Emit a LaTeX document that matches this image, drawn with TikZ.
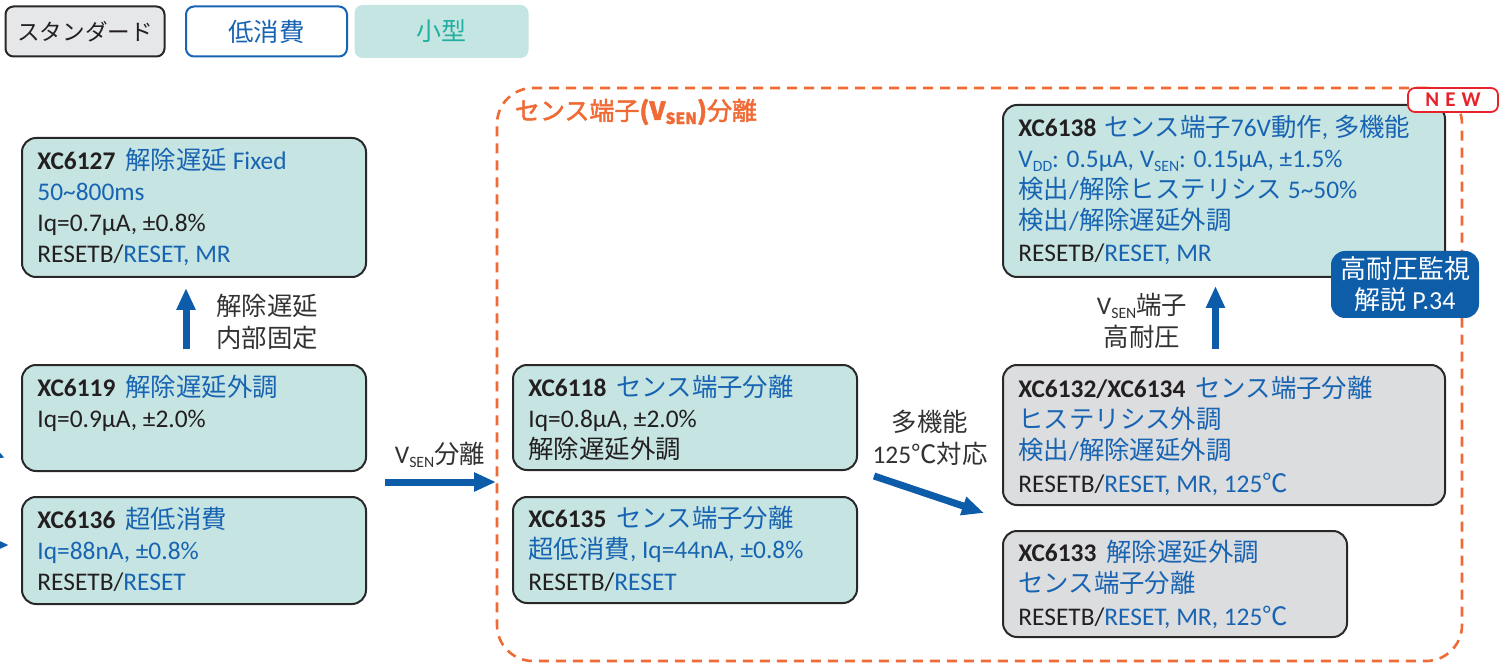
\documentclass[tikz,border=0pt]{standalone}
\usepackage{fontspec}
\usepackage{graphicx}
\setmainfont{Carlito}
\newfontfamily\jpf{Noto Sans CJK JP}
\newfontfamily\jpbf{Noto Sans CJK JP}[FakeBold=2]
\usetikzlibrary{arrows.meta,calc}
\definecolor{txtdark}{RGB}{35,31,32}
\definecolor{lbldark}{RGB}{50,50,50}
\definecolor{txtblue}{RGB}{24,100,178}
\definecolor{tealfill}{RGB}{198,229,226}
\definecolor{grayfill}{RGB}{220,221,223}
\definecolor{boxline}{RGB}{40,40,40}
\definecolor{arrblue}{RGB}{12,92,170}
\definecolor{orng}{RGB}{240,106,54}
\definecolor{newred}{RGB}{230,35,42}
\definecolor{legteal}{RGB}{34,175,160}
\definecolor{legtealfill}{RGB}{196,229,225}
\definecolor{leggray}{RGB}{230,231,232}
\definecolor{badgeblue}{RGB}{13,93,169}
\newcommand\jp[1]{{\jpf #1}}
\newcommand\bl[1]{\textcolor{txtblue}{#1}}
\newcommand\ssub[1]{\raisebox{-0.3ex}{\scalebox{0.62}{#1}}}
\newcommand\bodyfont{\fontsize{12.7}{16}\selectfont}
\tikzset{
  tbox/.style={draw=boxline, line width=1pt, fill=tealfill, rounded corners=7pt, inner sep=0},
  gbox/.style={tbox, fill=grayfill},
  ln/.style={anchor=base west, inner sep=0, font=\bodyfont, text=txtdark},
  lab/.style={inner sep=0, font=\bodyfont, text=lbldark, align=center},
  bigarr/.style={draw=arrblue, line width=3.5pt, -{Triangle[width=9pt,length=11pt]}},
}
\begin{document}
\begin{tikzpicture}[x=0.5pt,y=-0.5pt]
\useasboundingbox (0,0) rectangle (1510,663);
\clip (0,0) rectangle (1510,663);

% legend
\node[draw=boxline, line width=1pt, fill=leggray, rounded corners=4pt, minimum width=79.5pt, minimum height=25pt, inner sep=0, font=\jpf\fontsize{11.3}{12}\selectfont, text=txtdark] (lg1) at (85,31.5) {スタンダード};
\node[draw=txtblue, line width=1pt, fill=white, rounded corners=4pt, minimum width=80.5pt, minimum height=25pt, inner sep=0, font=\jpf\fontsize{12.7}{13}\selectfont, text=txtblue] (lg2) at (266.5,31.5) {低消費};
\node[fill=legtealfill, rounded corners=4pt, minimum width=87pt, minimum height=26.5pt, inner sep=0, font=\jpf\fontsize{12.5}{13}\selectfont, text=legteal] (lg3) at (441.5,31.5) {小型};

% dashed frame
\node[draw=orng, line width=1.3pt, dash pattern=on 5pt off 3.5pt, rounded corners=18pt, minimum width=482.5pt, minimum height=286.5pt, inner sep=0] (frame) at (979.5,374.5) {};
\node[inner sep=0, text=orng, font=\fontsize{12.5}{13}\selectfont] (ftitle) at (636,112) {\jpbf センス端子\textbf{(V\ssub{SEN})}\jpbf 分離};

% boxes
\node[tbox, minimum width=172pt, minimum height=69.5pt] (b6127) at (194,207.5) {};
\node[tbox, minimum width=172pt, minimum height=53pt] (b6119) at (194,418) {};
\node[tbox, minimum width=172pt, minimum height=53.5pt] (b6136) at (194,550.5) {};
\node[tbox, minimum width=172pt, minimum height=52.5pt] (b6118) at (685,417.5) {};
\node[tbox, minimum width=172pt, minimum height=53pt] (b6135) at (685,550) {};
\node[gbox, minimum width=221pt, minimum height=70pt] (b6132) at (1224,435) {};
\node[gbox, minimum width=172pt, minimum height=53pt] (b6133) at (1175,584) {};
\node[tbox, minimum width=221pt, minimum height=86pt] (b6138) at (1224,191) {};

% XC6127
\node[ln] (t27a) at (37,170) {\textbf{XC6127}\hspace{5pt}\bl{\jp{解除遅延} Fixed}};
\node[ln] (t27b) at (37,201) {\bl{50\textasciitilde800ms}};
\node[ln] (t27c) at (37,232) {Iq=0.7µA, ±0.8\%};
\node[ln] (t27d) at (37,263) {RESETB/\bl{RESET, MR}};
% XC6119
\node[ln] (t19a) at (37,396) {\textbf{XC6119}\hspace{5pt}\bl{\jp{解除遅延外調}}};
\node[ln] (t19b) at (37,427) {Iq=0.9µA, ±2.0\%};
% XC6136
\node[ln] (t36a) at (37,528) {\textbf{XC6136}\hspace{5pt}\bl{\jp{超低消費}}};
\node[ln] (t36b) at (37,559) {\bl{Iq=88nA, ±0.8\%}};
\node[ln] (t36c) at (37,590) {RESETB/\bl{RESET}};
% XC6118
\node[ln] (t18a) at (528,396) {\textbf{XC6118}\hspace{5pt}\bl{\jp{センス端子分離}}};
\node[ln] (t18b) at (528,427) {Iq=0.8µA, ±2.0\%};
\node[ln] (t18c) at (528,458) {\jp{解除遅延外調}};
% XC6135
\node[ln] (t35a) at (528,527) {\textbf{XC6135}\hspace{5pt}\bl{\jp{センス端子分離}}};
\node[ln] (t35b) at (528,558) {\bl{\jp{超低消費}, Iq=44nA, ±0.8\%}};
\node[ln] (t35c) at (528,590) {RESETB/\bl{RESET}};
% XC6132/XC6134
\node[ln] (t32a) at (1018,397) {\textbf{XC6132/XC6134}\hspace{5pt}\bl{\jp{センス端子分離}}};
\node[ln] (t32b) at (1018,428) {\bl{\jp{ヒステリシス外調}}};
\node[ln] (t32c) at (1018,459) {\bl{\jp{検出}/\jp{解除遅延外調}}};
\node[ln] (t32d) at (1018,492) {RESETB/\bl{RESET, MR, 125\jp{℃}}};
% XC6133
\node[ln] (t33a) at (1018,561) {\textbf{XC6133}\hspace{5pt}\bl{\jp{解除遅延外調}}};
\node[ln] (t33b) at (1018,592) {\bl{\jp{センス端子分離}}};
\node[ln] (t33c) at (1018,625) {RESETB/\bl{RESET, MR, 125\jp{℃}}};
% XC6138
\node[ln] (t38a) at (1018,137) {\textbf{XC6138}\hspace{4pt}\bl{\jp{センス端子}76V\jp{動作}, \jp{多機能}}};
\node[ln] (t38b) at (1018,168) {\bl{V\ssub{DD}: 0.5µA, V\ssub{SEN}: 0.15µA, ±1.5\%}};
\node[ln] (t38c) at (1018,199) {\bl{\jp{検出}/\jp{解除ヒステリシス} 5\textasciitilde50\%}};
\node[ln] (t38d) at (1018,230) {\bl{\jp{検出}/\jp{解除遅延外調}}};
\node[ln] (t38e) at (1018,262) {RESETB/\bl{RESET, MR}};

% arrows
\draw[bigarr] ($(b6119.north)+(-8,-15)$) -- ($(b6127.south)+(-8,10)$);
\draw[bigarr] ($(b6119.south east)+(18,10)$) -- ($(b6118.south west)+(-16,11)$);
\draw[bigarr] ($(b6118.south east)+(16,5)$) -- ($(b6132.south west)+(-18,7)$);
\draw[bigarr] ($(b6132.north)+(-8.5,-15)$) -- ($(b6138.south)+(-8.5,8)$);
% arrows entering from the left edge
\coordinate (offA) at (-70,425);
\coordinate (endA) at (5,458);
\coordinate (offB) at (-70,545);
\coordinate (endB) at (9,545);
\draw[bigarr] (offA) -- (endA);
\draw[bigarr] (offB) -- (endB);

% arrow labels
\node[lab, align=left] (l1) at (267,322) {\jp{解除遅延}\\\jp{内部固定}};
\node[lab] (l2) at (440,455) {V\ssub{SEN}\jp{分離}};
\node[lab] (l3) at (930,438) {\jp{多機能}\\125\jp{℃対応}};
\node[lab] (l4) at (1142,321) {V\ssub{SEN}\jp{端子}\\\jp{高耐圧}};

% badges
\node[fill=badgeblue, rounded corners=7pt, minimum width=74pt, minimum height=33.5pt, inner sep=0, text=white, align=center, font=\fontsize{13}{15.5}\selectfont] (badge) at (1405,284.5) {\jp{高耐圧監視}\\\jp{解説} P.34};
\node[draw=newred, line width=0.9pt, fill=white, rounded corners=3.5pt, minimum width=45pt, minimum height=12pt, inner sep=0, text=newred, font=\bfseries\fontsize{10.5}{11}\selectfont] (new) at (1453,100) {N\hspace{3pt}E\hspace{3pt}W};
\end{tikzpicture}
\end{document}
